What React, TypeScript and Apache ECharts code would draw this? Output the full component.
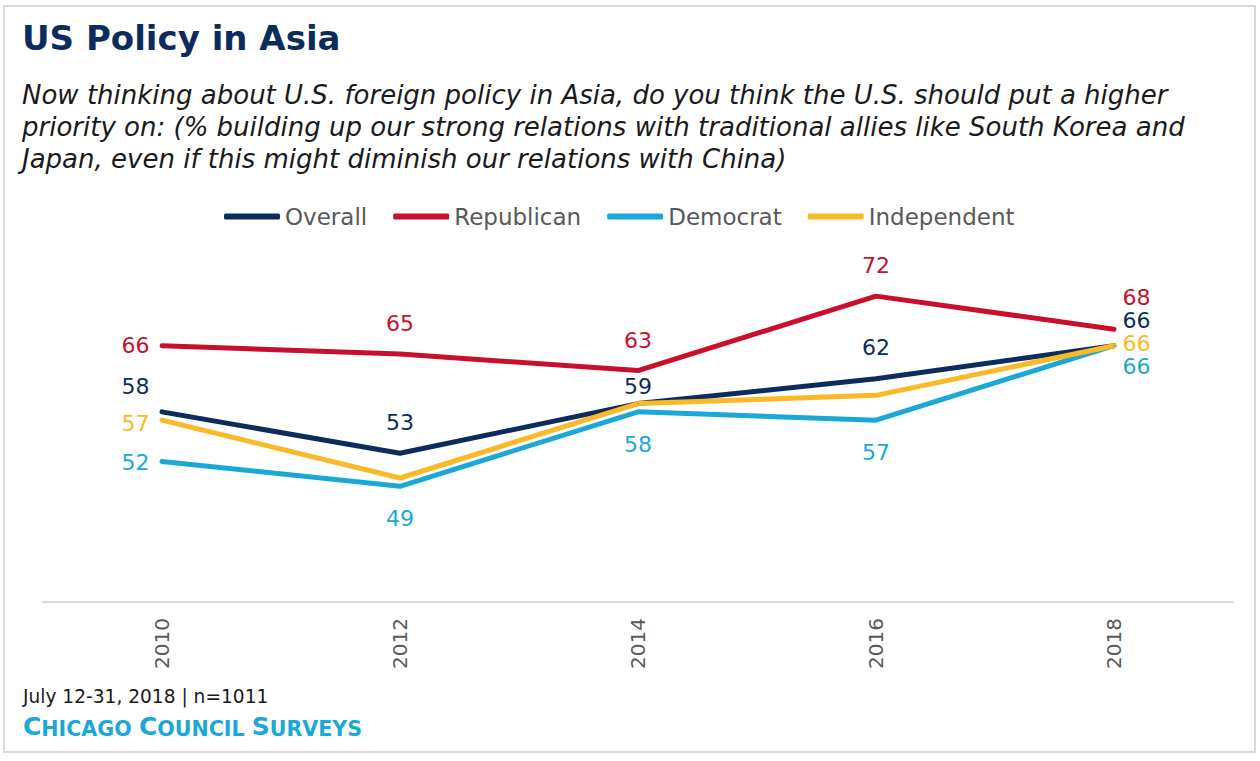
import React, { useEffect, useRef } from "react";
import * as echarts from "echarts";

const years = ["2010", "2012", "2014", "2016", "2018"];
const overall = [58, 53, 59, 62, 66];
const republican = [66, 65, 63, 72, 68];
const democrat = [52, 49, 58, 57, 66];
const independent = [57, 50, 59, 60, 66];

const seriesNames = ["Overall", "Republican", "Democrat", "Independent"];
const seriesColors = ["#0d2c5e", "#c8102e", "#1ba8d6", "#fbb827"];

const subtitleLines = [
  "Now thinking about U.S. foreign policy in Asia, do you think the U.S. should put a higher",
  "priority on: (% building up our strong relations with traditional allies like South Korea and",
  "Japan, even if this might diminish our relations with China)",
];

// label placement per series per point (null = hidden)
type LS = { position: string; distance?: number; offset?: number[] } | null;
const L = (dy = 0): LS => ({ position: "left", distance: 12, offset: [0, dy] });
const T = (d = 20): LS => ({ position: "top", distance: d });
const B = (d = 22): LS => ({ position: "bottom", distance: d });
const R = (dy: number): LS => ({ position: "right", distance: 8, offset: [0, dy] });

const labelSpecs: LS[][] = [
  [L(-25), T(20), T(7), T(21), R(-25)],
  [L(0), T(20), T(20), T(20), R(-32)],
  [L(1), B(22), B(22), B(22), R(21)],
  [L(3), null, null, null, R(-2)],
];

export default function App() {
  const ref = useRef<HTMLDivElement>(null);
  useEffect(() => {
    if (!ref.current) return;
    const chart = echarts.init(ref.current, undefined, { renderer: "svg" });
    const values = [overall, republican, democrat, independent];
    const font = "'DejaVu Sans', sans-serif";
    chart.setOption({
      animation: false,
      backgroundColor: "#ffffff",
      textStyle: { fontFamily: font },
      legend: {
        top: 200,
        left: 219,
        itemWidth: 56,
        itemHeight: 6,
        itemGap: 26,
        icon: "roundRect",
        textStyle: { fontSize: 23, color: "#595959", fontFamily: font },
        data: seriesNames,
      },
      grid: { left: 43, right: 27, top: 230, bottom: 159 },
      xAxis: {
        type: "category",
        data: years,
        boundaryGap: true,
        axisLine: { lineStyle: { color: "#d9d9d9", width: 2 } },
        axisTick: { show: false },
        axisLabel: {
          rotate: 90,
          margin: 16,
          fontSize: 20,
          color: "#595959",
          fontFamily: font,
        },
      },
      yAxis: {
        type: "value",
        min: 35,
        max: 80,
        show: false,
        splitLine: { show: false },
      },
      graphic: [
        {
          type: "rect",
          shape: { x: 4, y: 6, width: 1251, height: 746 },
          style: { fill: "none", stroke: "#d9d9d9", lineWidth: 2 },
        },
        {
          type: "text",
          x: 22,
          y: 21,
          style: {
            text: "US Policy in Asia",
            fontSize: 34,
            fontWeight: "bold",
            fill: "#0d2c5e",
            fontFamily: font,
          },
        },
        ...subtitleLines.map((t, i) => ({
          type: "text",
          x: 22,
          y: 82 + i * 32,
          style: {
            text: t,
            fontSize: 26,
            fontStyle: "italic",
            fill: "#1a1a1a",
            fontFamily: font,
          },
        })),
        {
          type: "text",
          x: 23,
          y: 687,
          style: {
            text: "July 12-31, 2018 | n=1011",
            fontSize: 18.6,
            fill: "#1a1a1a",
            fontFamily: font,
          },
        },
        {
          type: "text",
          x: 23,
          y: 714,
          style: {
            text: "{b|C}{s|HICAGO }{b|C}{s|OUNCIL }{b|S}{s|URVEYS}",
            rich: {
              b: { fontSize: 25, fontWeight: "bold", fill: "#1ba8d6", fontFamily: font, verticalAlign: "bottom" },
              s: { fontSize: 20.6, fontWeight: "bold", fill: "#1ba8d6", fontFamily: font, verticalAlign: "bottom" },
            },
          },
        },
      ],
      series: seriesNames.map((name, si) => ({
        name,
        type: "line",
        symbol: "circle",
        symbolSize: 1,
        showSymbol: true,
        color: seriesColors[si],
        itemStyle: { color: seriesColors[si] },
        lineStyle: { width: 5, color: seriesColors[si], cap: "round", join: "round" },
        data: values[si].map((v, i) => {
          const spec = labelSpecs[si][i];
          return {
            value: v,
            label: spec
              ? {
                  show: true,
                  position: spec.position,
                  distance: spec.distance ?? 5,
                  offset: spec.offset ?? [0, 0],
                  fontSize: 22,
                  lineHeight: 20,
                  color: seriesColors[si],
                  fontFamily: font,
                }
              : { show: false },
          };
        }),
      })),
    });
    return () => chart.dispose();
  }, []);
  return (
    <div
      ref={ref}
      style={{ position: "fixed", left: 0, top: 0, width: 1260, height: 761 }}
    />
  );
}
